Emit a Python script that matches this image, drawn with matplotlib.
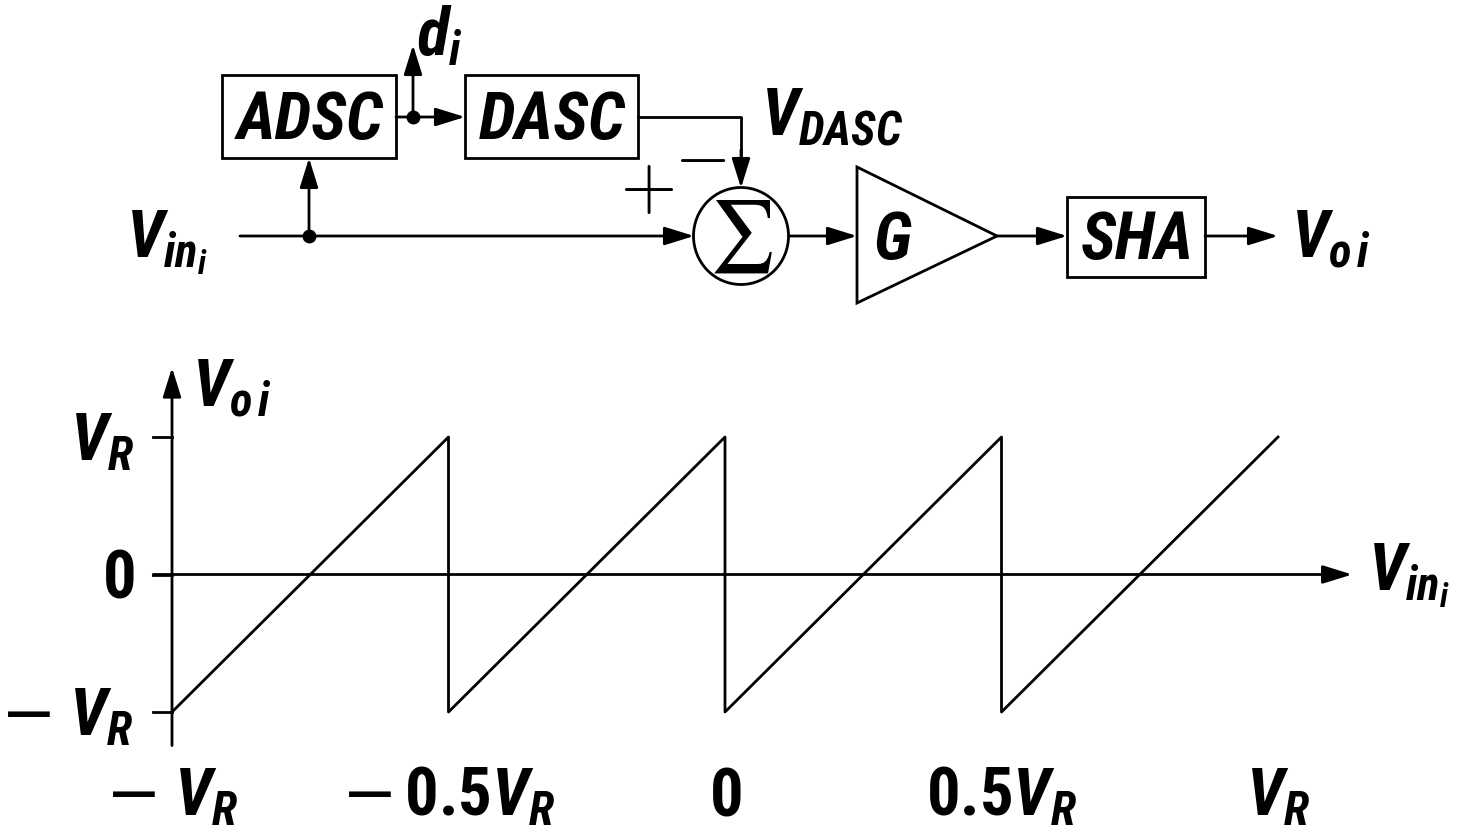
import matplotlib
matplotlib.use('Agg')
import matplotlib.pyplot as plt
from matplotlib import font_manager as fm
from matplotlib.patches import Rectangle, Ellipse, Polygon

# ---------- pick a condensed bold-italic sans if one is installed ----------
names = {f.name for f in fm.fontManager.ttflist}
FAM, STRETCH, CONDENSED = 'Liberation Sans', 'normal', False
for cand in ['Liberation Sans Narrow', 'DejaVu Sans Condensed', 'Roboto Condensed',
             'Open Sans Condensed', 'Noto Sans Condensed']:
    if cand in names:
        FAM, CONDENSED = cand, True
        break
if not CONDENSED:
    for f in fm.fontManager.ttflist:
        if 'condensed' in str(f.stretch) and f.name in ('DejaVu Sans', 'Noto Sans', 'Roboto', 'Liberation Sans'):
            FAM, STRETCH, CONDENSED = f.name, 'condensed', True
            break

plt.rcParams['font.family'] = [FAM, 'DejaVu Sans']
plt.rcParams['font.stretch'] = STRETCH
plt.rcParams['mathtext.fontset'] = 'custom'
plt.rcParams['mathtext.it'] = f'{FAM}:italic:bold'
plt.rcParams['mathtext.rm'] = f'{FAM}:bold'
plt.rcParams['mathtext.bf'] = f'{FAM}:bold'
plt.rcParams['mathtext.sf'] = f'{FAM}:bold'
plt.rcParams['mathtext.cal'] = 'DejaVu Sans'

# ---------------- data (transfer characteristic, in units of V_R) -------------
vin = [-1.0, -0.5, -0.5, 0.0, 0.0, 0.5, 0.5, 1.0]
vout = [-1.0, 1.0, -1.0, 1.0, -1.0, 1.0, -1.0, 1.0]
xtick_vals = [-1.0, -0.5, 0.0, 0.5, 1.0]
xtick_labels = [r'$\mathcal{-}\;V_R$', r'$\mathcal{-}\,0.5V_R$', r'$0$', r'$0.5V_R$', r'$V_R$']
ytick_vals = [1.0, 0.0, -1.0]
ytick_labels = [r'$V_R$', r'$0$', r'$\mathcal{-}\;V_R$']

# block diagram labels
blocks = ['ADSC', 'DASC', 'SHA']
amp_label = 'G'

FS = 48 if CONDENSED else 40
BFS = 48 if CONDENSED else 38
LW = 2.0
K = 'black'

fig = plt.figure(figsize=(14.64, 8.30), dpi=100)
ax0 = fig.add_axes([0, 0, 1, 1])
ax0.set_xlim(0, 1464)
ax0.set_ylim(830, 0)
ax0.axis('off')

AP = dict(arrowstyle='-|>,head_length=0.9,head_width=0.28', mutation_scale=20,
          lw=LW, color=K, shrinkA=0, shrinkB=0)


def arrow(ax, p0, p1):
    ax.annotate('', xy=p1, xytext=p0, arrowprops=AP, annotation_clip=False)


# ---------------- block diagram ----------------
box_geom = {'ADSC': (222, 75, 174, 83), 'DASC': (465, 75, 173, 83), 'SHA': (1067, 197, 138, 80)}
for name in blocks:
    x, y, w, h = box_geom[name]
    ax0.add_patch(Rectangle((x, y), w, h, fill=False, lw=LW, ec=K))
    ax0.text(x + w / 2 + 1, y + h / 2 + 22, name, fontsize=BFS, fontweight='bold',
             fontstyle='italic', ha='center', va='baseline')

# amplifier triangle
ax0.add_patch(Polygon([(857, 167), (857, 303), (997, 236)], closed=True, fill=False, lw=LW, ec=K))
ax0.text(893, 259, amp_label, fontsize=BFS, fontweight='bold', fontstyle='italic',
         ha='center', va='baseline')

# summer
ax0.add_patch(Ellipse((741, 236), 95, 97, fill=False, lw=LW, ec=K))
ax0.text(741, 237, r'$\sum$', math_fontfamily='stix', fontsize=52, ha='center', va='center')
ax0.text(647, 189, r'$+$', math_fontfamily='cm', fontsize=52, ha='center', va='center')
ax0.text(700, 157, r'$-$', math_fontfamily='cm', fontsize=52, ha='center', va='center')

# wires
arrow(ax0, (396, 117), (465, 117))
arrow(ax0, (413, 117), (413, 45))
arrow(ax0, (240, 236), (694, 236))
arrow(ax0, (309, 236), (309, 158))
ax0.plot([638, 741, 741], [117, 117, 160], color=K, lw=LW)
arrow(ax0, (741, 150), (741, 188))
arrow(ax0, (789, 236), (857, 236))
arrow(ax0, (997, 236), (1067, 236))
arrow(ax0, (1205, 236), (1278, 236))
ax0.plot([413, 309], [117, 236], 'o', color=K, ms=9, ls='none')

# signal labels
ax0.text(126, 257, r'$V_{in_i}$', fontsize=FS, ha='left', va='baseline')
ax0.text(416, 55, r'$d_i$', fontsize=FS, ha='left', va='baseline')
ax0.text(761, 135, r'$V_{DASC}$', fontsize=FS, ha='left', va='baseline')
ax0.text(1291, 257, r'$V_{o\,i}$', fontsize=FS, ha='left', va='baseline')

# ---------------- transfer characteristic ----------------
ax1 = fig.add_axes([172 / 1464, 1 - 712 / 830, 1106 / 1464, 275 / 830])
ax1.set_xlim(-1, 1)
ax1.set_ylim(-1, 1)
ax1.axis('off')
ax1.patch.set_alpha(0)

ax1.plot(vin, vout, color=K, lw=LW, clip_on=False)

# axes with arrows
arrow(ax1, (-1.0, -1.244), (-1.0, 1.505))
arrow(ax1, (-1.034, 0.0), (1.134, 0.0))
for v in ytick_vals:
    ax1.plot([-1.034, -1.0], [v, v], color=K, lw=LW, clip_on=False)

for v, lab in zip(ytick_vals, ytick_labels):
    ax1.annotate(lab, xy=(-1.0, v), xytext=(-38, -23), textcoords='offset pixels',
                 fontsize=FS, ha='right', va='baseline', annotation_clip=False)
for v, lab in zip(xtick_vals, xtick_labels):
    ax1.annotate(lab, xy=(v, -1.0), xytext=(0, -103), textcoords='offset pixels',
                 fontsize=FS, ha='center', va='baseline', annotation_clip=False)

ax1.annotate(r'$V_{o\,i}$', xy=(-1.0, 1.505), xytext=(20, -38), textcoords='offset pixels',
             fontsize=FS, ha='left', va='baseline', annotation_clip=False)
ax1.annotate(r'$V_{in_i}$', xy=(1.134, 0.0), xytext=(16, -16), textcoords='offset pixels',
             fontsize=FS, ha='left', va='baseline', annotation_clip=False)

fig.savefig('out.png', dpi=100)
